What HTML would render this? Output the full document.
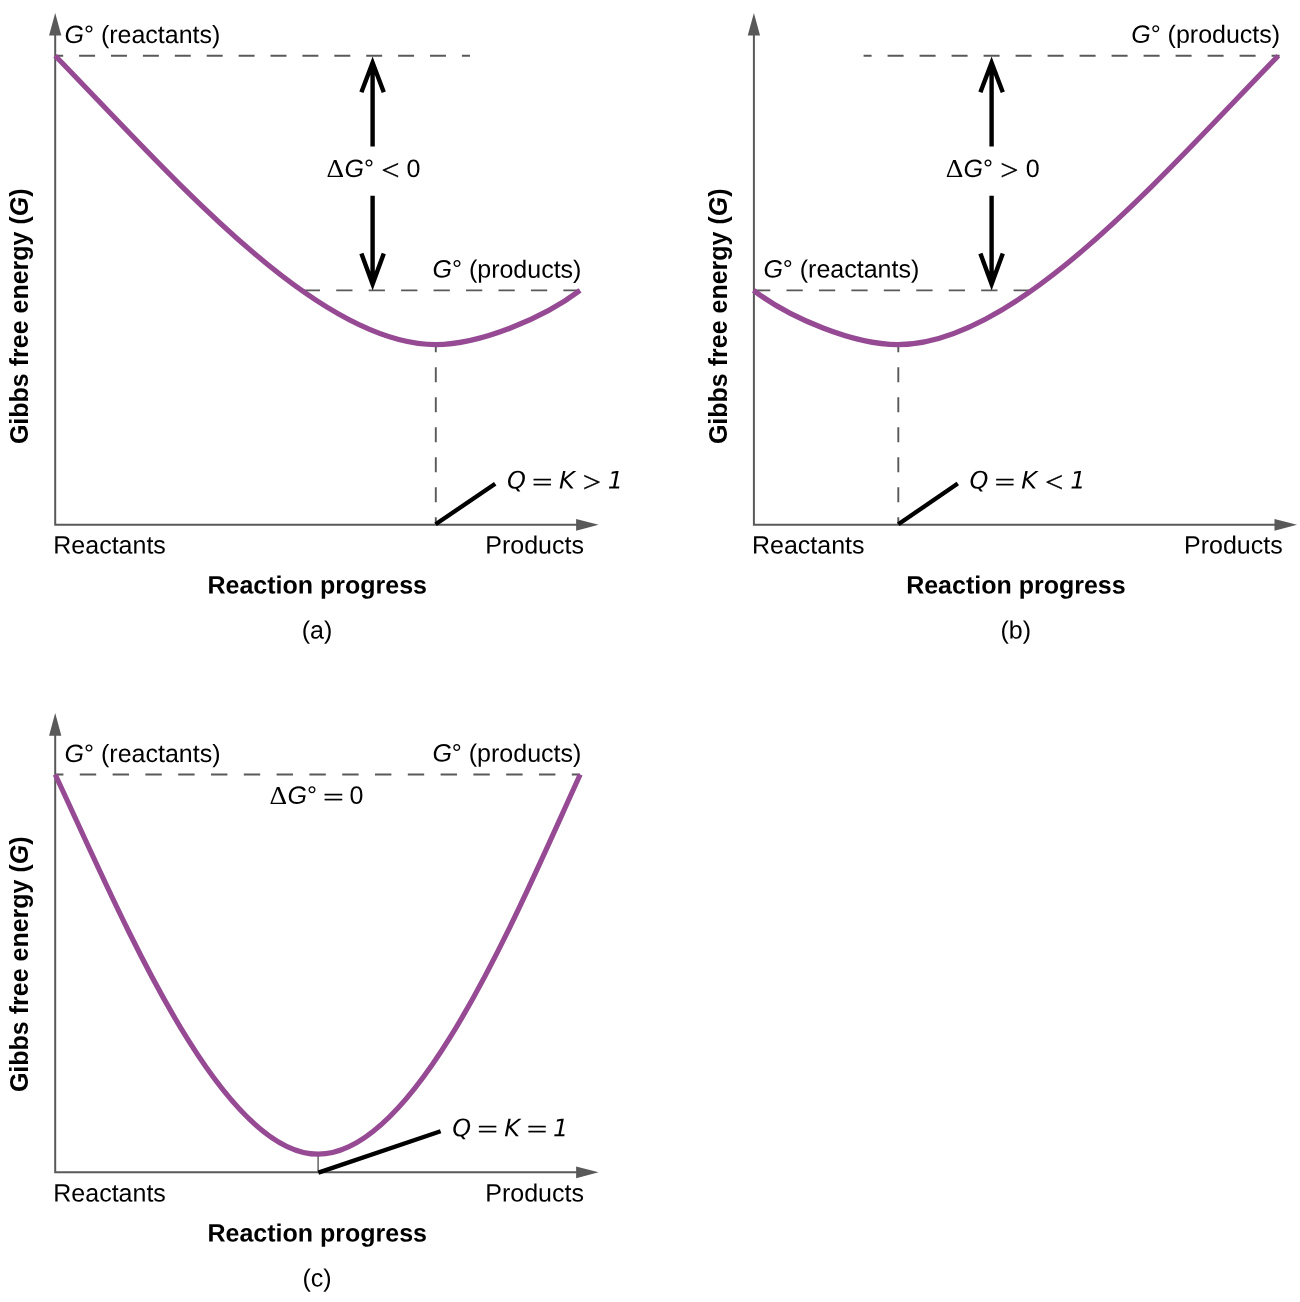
<!DOCTYPE html>
<html><head><meta charset="utf-8"><title>Gibbs free energy versus reaction progress</title>
<style>
html,body{margin:0;padding:0;background:#fff;}
svg{display:block;}
text{font-family:"Liberation Sans",sans-serif;font-size:25px;fill:#000;}
.b{font-weight:bold;}
.i{font-style:italic;}
.sy{font-family:"Liberation Serif",serif;}
.op{font-family:"Liberation Serif",serif;stroke:#000;stroke-width:.35px;}
.dv{font-family:"DejaVu Sans",sans-serif;font-style:italic;font-size:24px;}
.ax{stroke:#595959;stroke-width:2;fill:none;}
.ah{fill:#595959;stroke:none;}
.ds{stroke:#595959;stroke-width:1.9;fill:none;}
.th{stroke:#595959;stroke-width:1.4;fill:none;}
.cv{stroke:#954A93;stroke-width:5.2;fill:none;}
.ar{stroke:#000;stroke-width:4.4;fill:none;stroke-miterlimit:10;}
.pt{stroke:#000;stroke-width:4.3;fill:none;}
</style></head>
<body>
<svg width="1300" height="1302" viewBox="0 0 1300 1302">
<rect width="1300" height="1302" fill="#fff"/>
<g id="panel-a">
<path class="ax" d="M55.2 32.9V524.8H578.6"/>
<path class="ah" d="M55.2 12.9L61.35 35.6H49.05Z"/>
<path class="ah" d="M598.6 524.8L576.1 530.7V518.9Z"/>
<path class="ds" d="M55.2 55.7H470" stroke-dasharray="15.95 15.95" stroke-dashoffset="7.975"/>
<path class="ds" d="M303.75 290.4H579.65" stroke-dasharray="16.3 16.15" stroke-dashoffset="0"/>
<path class="ds" d="M435.8 344.8V524.8" stroke-dasharray="15 15" stroke-dashoffset="7.5"/>
<path class="cv" d="M55.2 55.7C174 178.1 317.6 344.6 435.7 344.6C479.8 344.6 542.9 318.5 580 290.4"/>
<path class="ar" d="M372.6 146.6V64.6M361.4 92.3L372.6 62.8L383.8 92.3"/>
<path class="ar" d="M372.6 195.8V282.2M361.4 253.5L372.6 284L383.8 253.5"/>
<path class="pt" d="M435.6 524.3L495.2 483.7"/>
<text transform="translate(64.5 42.9) rotate(.03)"><tspan class="i">G</tspan>° (reactants)</text>
<text transform="translate(432.5 277.6) rotate(.03)"><tspan class="i">G</tspan>° (products)</text>
<text class="sy" style="font-size:25px" transform="translate(326.56 177.00) scale(1.0927 1.0118)">Δ</text>
<text transform="translate(344.5 177) rotate(.03)"><tspan class="i">G</tspan>°</text>
<text class="op" style="font-size:32px" transform="translate(381.28 180.35) scale(1.0141 0.9458)">&lt;</text>
<text transform="translate(406.6 177) rotate(.03)">0</text>
<text class="dv" transform="translate(507 488.5) rotate(.03)">Q<tspan x="51.9">K</tspan><tspan x="100.8">1</tspan></text>
<text class="op" style="font-size:32px" transform="translate(531.98 490.50) scale(1.1417 0.8000)">=</text>
<text class="op" style="font-size:32px" transform="translate(582.65 491.75) scale(1.0141 0.9458)">&gt;</text>
<text transform="translate(53.3 553.5) rotate(.03)">Reactants</text>
<text transform="translate(485.3 553.5) rotate(.03)">Products</text>
<text class="b" text-anchor="middle" transform="translate(317.2 593.5) rotate(.03)">Reaction progress</text>
<text text-anchor="middle" transform="translate(317 638.6) rotate(.03)">(a)</text>
<text class="b" transform="translate(28.3 444.1) rotate(-90)">Gibbs free energy (<tspan class="i">G</tspan>)</text>
</g>
<g id="panel-b">
<path class="ax" d="M753.9 32.9V524.8H1277"/>
<path class="ah" d="M753.9 12.9L760.05 35.6H747.75Z"/>
<path class="ah" d="M1297 524.8L1274.5 530.7V518.9Z"/>
<path class="ds" d="M863.6 55.7H1279.6" stroke-dasharray="16 16" stroke-dashoffset="8"/>
<path class="ds" d="M754 290.4H1029.9" stroke-dasharray="16.3 16.15" stroke-dashoffset="0"/>
<path class="ds" d="M898.3 344.8V524.8" stroke-dasharray="15 15" stroke-dashoffset="7.5"/>
<path class="cv" d="M1278.3 55.7C1159.5 178.1 1015.9 344.6 897.8 344.6C853.7 344.6 790.6 318.5 753.5 290.4"/>
<path class="ar" d="M991.6 146.6V64.6M980.4 92.3L991.6 62.8L1002.8 92.3"/>
<path class="ar" d="M991.6 195.8V282.2M980.4 253.5L991.6 284L1002.8 253.5"/>
<path class="pt" d="M898.3 524.3L957.8 483.5"/>
<text transform="translate(1131.2 42.8) rotate(.03)"><tspan class="i">G</tspan>° (products)</text>
<text transform="translate(763.4 277.5) rotate(.03)"><tspan class="i">G</tspan>° (reactants)</text>
<text class="sy" style="font-size:25px" transform="translate(945.66 177.00) scale(1.0927 1.0118)">Δ</text>
<text transform="translate(963.6 177) rotate(.03)"><tspan class="i">G</tspan>°</text>
<text class="op" style="font-size:32px" transform="translate(1000.35 180.35) scale(1.0141 0.9458)">&gt;</text>
<text transform="translate(1025.7 177) rotate(.03)">0</text>
<text class="dv" transform="translate(969.4 488.5) rotate(.03)">Q<tspan x="51.9">K</tspan><tspan x="100.8">1</tspan></text>
<text class="op" style="font-size:32px" transform="translate(994.38 490.50) scale(1.1417 0.8000)">=</text>
<text class="op" style="font-size:32px" transform="translate(1045.08 491.75) scale(1.0141 0.9458)">&lt;</text>
<text transform="translate(752 553.5) rotate(.03)">Reactants</text>
<text transform="translate(1184 553.5) rotate(.03)">Products</text>
<text class="b" text-anchor="middle" transform="translate(1015.9 593.5) rotate(.03)">Reaction progress</text>
<text text-anchor="middle" transform="translate(1015.7 638.6) rotate(.03)">(b)</text>
<text class="b" transform="translate(727 444.1) rotate(-90)">Gibbs free energy (<tspan class="i">G</tspan>)</text>
</g>
<g id="panel-c">
<path class="ax" d="M55.2 733.1V1172.3H578.6"/>
<path class="ah" d="M55.2 713.1L61.35 735.8H49.05Z"/>
<path class="ah" d="M598.6 1172.3L576.1 1178.2V1166.4Z"/>
<path class="ds" d="M55.2 774.5H580" stroke-dasharray="16.4 16.4" stroke-dashoffset="8.2"/>
<path class="th" d="M318.1 1154V1172.3"/>
<path class="cv" d="M55.2 774.5C121 915.2 219.4 1154.2 318.1 1154.2C417.8 1154.2 516.7 913.2 580.2 774.5"/>
<path class="pt" d="M318.4 1172.6L440.6 1131.3"/>
<text transform="translate(64.6 761.9) rotate(.03)"><tspan class="i">G</tspan>° (reactants)</text>
<text transform="translate(432.4 761.6) rotate(.03)"><tspan class="i">G</tspan>° (products)</text>
<text class="sy" style="font-size:25px" transform="translate(269.56 803.80) scale(1.0927 1.0118)">Δ</text>
<text transform="translate(287.5 803.8) rotate(.03)"><tspan class="i">G</tspan>°</text>
<text class="op" style="font-size:32px" transform="translate(323.06 806.30) scale(1.1552 0.8000)">=</text>
<text transform="translate(349.6 803.8) rotate(.03)">0</text>
<text class="dv" transform="translate(452.3 1136.2) rotate(.03)">Q<tspan x="51.9">K</tspan><tspan x="100.8">1</tspan></text>
<text class="op" style="font-size:32px" transform="translate(477.28 1138.20) scale(1.1417 0.8000)">=</text>
<text class="op" style="font-size:32px" transform="translate(526.78 1138.20) scale(1.1417 0.8000)">=</text>
<text transform="translate(53.3 1201.5) rotate(.03)">Reactants</text>
<text transform="translate(485.3 1201.5) rotate(.03)">Products</text>
<text class="b" text-anchor="middle" transform="translate(317.2 1241.5) rotate(.03)">Reaction progress</text>
<text text-anchor="middle" transform="translate(317 1286.6) rotate(.03)">(c)</text>
<text class="b" transform="translate(28.3 1092.1) rotate(-90)">Gibbs free energy (<tspan class="i">G</tspan>)</text>
</g>
</svg>
</body></html>
